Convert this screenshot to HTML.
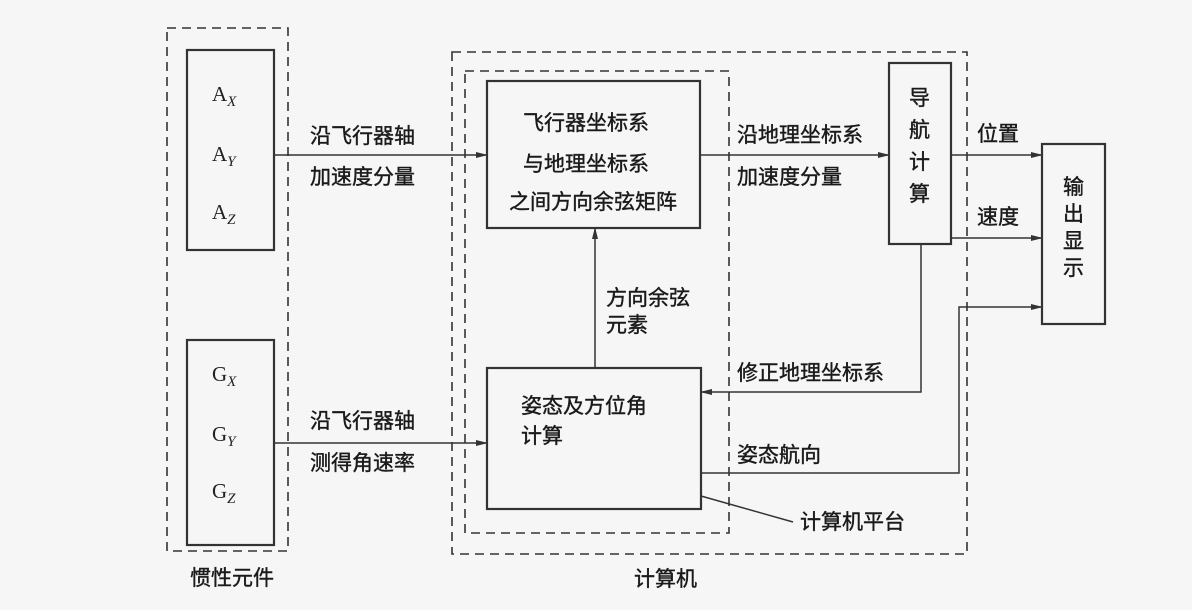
<!DOCTYPE html>
<html><head><meta charset="utf-8"><style>
body{margin:0;background:#f6f6f6;}
svg{display:block;font-family:"Liberation Serif","Noto Serif CJK SC","Noto Sans CJK SC",serif;}
.t{font-size:21px;fill:#1a1a1a;stroke:#1a1a1a;stroke-width:0.4;font-family:"Liberation Sans","Noto Sans CJK SC",sans-serif;}
.s{font-size:21px;fill:#222;}
</style></head><body>
<svg width="1192" height="610" viewBox="0 0 1192 610" xmlns="http://www.w3.org/2000/svg">
<defs><marker id="a" markerWidth="12" markerHeight="8" refX="11" refY="4" orient="auto" markerUnits="userSpaceOnUse"><path d="M0,1 L12,4 L0,7 z" fill="#333"/></marker></defs>
<g fill="none" stroke="#333" stroke-width="1.6" stroke-dasharray="9,6">
<rect x="167" y="28" width="121" height="523"/>
<rect x="452" y="52" width="515" height="502"/>
<rect x="465" y="71" width="264" height="462"/>
</g>
<g fill="none" stroke="#333" stroke-width="2.2">
<rect x="187" y="50" width="87" height="200"/>
<rect x="187" y="340" width="87" height="205"/>
<rect x="487" y="81" width="213" height="147"/>
<rect x="487" y="368" width="214" height="141"/>
<rect x="889" y="63" width="62" height="181"/>
<rect x="1042" y="144" width="63" height="180"/>
</g>
<g fill="none" stroke="#333" stroke-width="1.5">
<line x1="274" y1="155" x2="487" y2="155" marker-end="url(#a)"/>
<line x1="274" y1="443" x2="487" y2="443" marker-end="url(#a)"/>
<line x1="700" y1="155" x2="889" y2="155" marker-end="url(#a)"/>
<line x1="951" y1="155" x2="1042" y2="155" marker-end="url(#a)"/>
<line x1="951" y1="238" x2="1042" y2="238" marker-end="url(#a)"/>
<line x1="595" y1="368" x2="595" y2="228" marker-end="url(#a)"/>
<polyline points="921,244 921,392 701,392" marker-end="url(#a)"/>
<polyline points="701,473 959,473 959,307 1042,307" marker-end="url(#a)"/>
<line x1="701" y1="496" x2="793" y2="522"/>
</g>
<g class="s">
<text x="212" y="101">A<tspan font-size="15" font-style="italic" dy="5">X</tspan></text>
<text x="212" y="161">A<tspan font-size="15" font-style="italic" dy="5">Y</tspan></text>
<text x="212" y="219">A<tspan font-size="15" font-style="italic" dy="5">Z</tspan></text>
<text x="212" y="381">G<tspan font-size="15" font-style="italic" dy="5">X</tspan></text>
<text x="212" y="441">G<tspan font-size="15" font-style="italic" dy="5">Y</tspan></text>
<text x="212" y="498">G<tspan font-size="15" font-style="italic" dy="5">Z</tspan></text>
</g>
<g class="t">
<text x="310" y="143">沿飞行器轴</text>
<text x="310" y="184">加速度分量</text>
<text x="310" y="428">沿飞行器轴</text>
<text x="310" y="470">测得角速率</text>
<text x="523" y="130">飞行器坐标系</text>
<text x="523" y="171">与地理坐标系</text>
<text x="509" y="209">之间方向余弦矩阵</text>
<text x="606" y="305">方向余弦</text>
<text x="606" y="332">元素</text>
<text x="521" y="413">姿态及方位角</text>
<text x="521" y="443">计算</text>
<text x="737" y="142">沿地理坐标系</text>
<text x="737" y="184">加速度分量</text>
<text x="909" y="105">导</text>
<text x="909" y="137">航</text>
<text x="909" y="169">计</text>
<text x="909" y="201">算</text>
<text x="977" y="141">位置</text>
<text x="977" y="224">速度</text>
<text x="1063" y="194">输</text>
<text x="1063" y="221">出</text>
<text x="1063" y="248">显</text>
<text x="1063" y="275">示</text>
<text x="737" y="380">修正地理坐标系</text>
<text x="737" y="462">姿态航向</text>
<text x="800" y="529">计算机平台</text>
<text x="634" y="586">计算机</text>
<text x="190" y="585">惯性元件</text>
</g>
</svg>
</body></html>
